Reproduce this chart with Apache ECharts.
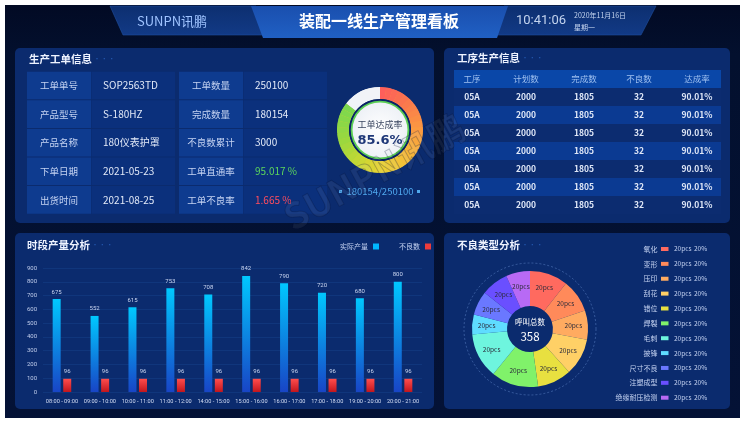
<!DOCTYPE html>
<html><head><meta charset="utf-8">
<script src="https://cdn.jsdelivr.net/npm/echarts@6/dist/echarts.min.js"></script>
<style>html,body{margin:0;padding:0;background:#fff}#c{width:750px;height:429px}</style>
</head><body><div id="c"></div><script>
const FONT = '"Noto Sans CJK SC","Noto Sans",sans-serif';
const NARROW = 'Roboto,"Noto Sans",sans-serif';

// ---- header texts ----
const headerTitle = '装配一线生产管理看板';
const brandText = 'SUNPN讯鹏';
const clockText = '10:41:06';
const dateText = '2020年11月16日';
const weekText = '星期一';

// ---- work order info ----
const infoLabelsA = ['工单单号', '产品型号', '产品名称', '下单日期', '出货时间'];
const infoValuesA = ['SOP2563TD', 'S-180HZ', '180仪表护罩', '2021-05-23', '2021-08-25'];
const infoLabelsB = ['工单数量', '完成数量', '不良数累计', '工单直通率', '工单不良率'];
const infoValuesB = ['250100', '180154', '3000', '95.017 %', '1.665 %'];
const infoValueColorsB = ['#e3eaf8', '#e3eaf8', '#e3eaf8', '#5cd65c', '#ff4d5e'];
const orderDone = '180154';
const orderTotal = '250100';
const completionRate = [85.6];
const completionTitle = '工单达成率';

// ---- process table ----
const tableHeaders = ['工序', '计划数', '完成数', '不良数', '达成率'];
const procCodes = ['05A', '05A', '05A', '05A', '05A', '05A', '05A'];
const procPlan = ['2000', '2000', '2000', '2000', '2000', '2000', '2000'];
const procDone = ['1805', '1805', '1805', '1805', '1805', '1805', '1805'];
const procBad = ['32', '32', '32', '32', '32', '32', '32'];
const procRate = ['90.01%', '90.01%', '90.01%', '90.01%', '90.01%', '90.01%', '90.01%'];

// ---- hourly output ----
const hours = ['08:00 - 09:00', '09:00 - 10:00', '10:00 - 11:00', '11:00 - 12:00', '14:00 - 15:00',
  '15:00 - 16:00', '16:00 - 17:00', '17:00 - 18:00', '19:00 - 20:00', '20:00 - 21:00'];
const actualOutput = [675, 552, 615, 753, 708, 842, 790, 720, 680, 800];
const defectOutput = [96, 96, 96, 96, 96, 96, 96, 96, 96, 96];
const seriesNames = ['实际产量', '不良数'];

// ---- defect types ----
const defectTypes = ['氧化', '变形', '压印', '刮花', '错位', '焊裂', '毛刺', '披锋', '尺寸不良', '注塑成型', '绝缘耐压检测'];
const defectValues = [38, 33, 29, 37, 34, 47, 45, 20, 24, 27, 24];
const defectPcsLabels = ['20pcs', '20pcs', '20pcs', '20pcs', '20pcs', '20pcs', '20pcs', '20pcs', '20pcs', '20pcs', '20pcs'];
const defectPctLabels = ['20%', '20%', '20%', '20%', '20%', '20%', '20%', '20%', '20%', '20%', '20%'];
const defectColors = ['#ff6a5f', '#ff8a5a', '#ffab60', '#ffd066', '#e8e040', '#80f26a', '#6ef5de', '#5fdcff', '#6a78ff', '#6a4fff', '#b86af5'];
const defectCenterTitle = '呼叫总数';

// ---------------------------------------------------------------
const G = echarts.graphic;
const els = [];
function rect(x, y, w, h, fill, r, z) { els.push({ type: 'rect', shape: { x, y, width: w, height: h, r: r || 0 }, style: { fill }, z: z == null ? -10 : z, silent: true }); }
function text(t, x, y, font, fill, align, z) { els.push({ type: 'text', x, y, style: { text: t, font, fill, textAlign: align || 'left', textVerticalAlign: 'middle' }, z: z == null ? 5 : z, silent: true }); }

// background
rect(5, 5, 735, 413, new G.LinearGradient(0, 0, 0, 1, [{ offset: 0, color: '#020a24' }, { offset: 0.12, color: '#03102e' }, { offset: 1, color: '#041236' }]), 0, -30);

// header shapes
const sideFill = () => new G.LinearGradient(0, 0, 0, 1, [{ offset: 0, color: '#0d2f70' }, { offset: 1, color: '#123a86' }]);
els.push({ type: 'polygon', shape: { points: [[110, 6], [256, 6], [266, 35], [123, 35]] }, style: { fill: sideFill(), stroke: '#1f4fa0', lineWidth: 0.6 }, z: -20, silent: true });
els.push({ type: 'polygon', shape: { points: [[504, 6], [656, 6], [641, 35], [494, 35]] }, style: { fill: sideFill(), stroke: '#1f4fa0', lineWidth: 0.6 }, z: -20, silent: true });
els.push({ type: 'polygon', shape: { points: [[251, 6], [508, 6], [497, 38], [263, 38]] }, style: { fill: new G.LinearGradient(0, 0, 0, 1, [{ offset: 0, color: '#1a4fae' }, { offset: 1, color: '#2060c4' }]) }, z: -19, silent: true });
text(brandText, 172, 21, '13px ' + FONT, '#9fc3ff', 'center');
text(headerTitle, 379, 21, 'bold 16px ' + FONT, '#ffffff', 'center');
text(clockText, 541, 21, '13px Roboto, ' + FONT, '#c3d3ee', 'center');
text(dateText, 574, 15, '7px ' + FONT, '#c3d3ee', 'left');
text(weekText, 574, 27, '7px ' + FONT, '#c3d3ee', 'left');

// panels
const PANEL = '#0b2b6e';
rect(15, 48, 419, 175, PANEL, 5);
rect(444, 48, 286, 175, PANEL, 5);
rect(15, 233, 419, 176, PANEL, 5);
rect(444, 233, 286, 176, PANEL, 5);
function title(t, x, y) {
  text(t, x, y, 'bold 10.5px ' + FONT, '#eef3ff', 'left');
  text('• • •', x + 65, y, '6px ' + FONT, '#2a62bf', 'left');
}
title('生产工单信息', 29, 59);
title('工序生产信息', 457, 58);
title('时段产量分析', 27, 245);
title('不良类型分析', 457, 245);

// work order info cells
for (let i = 0; i < 5; i++) {
  const y = 71.7 + i * 28.6, h = 27.6;
  rect(27, y, 64, h, '#0e3b8f', 0, -9);
  rect(91.5, y, 83.5, h, '#0b307c', 0, -9);
  rect(179, y, 64, h, '#0e3b8f', 0, -9);
  rect(243.5, y, 83.5, h, '#0b307c', 0, -9);
  text(infoLabelsA[i], 59, y + h / 2, '9.5px ' + FONT, '#c5d3f2', 'center');
  text(infoValuesA[i], 103, y + h / 2, '10px ' + FONT, '#e3eaf8', 'left');
  text(infoLabelsB[i], 211, y + h / 2, '9.5px ' + FONT, '#c5d3f2', 'center');
  text(infoValuesB[i], 255, y + h / 2, '10px ' + FONT, infoValueColorsB[i], 'left');
}

// donut inner decoration
const DC = [380, 130];
els.push({ type: 'circle', shape: { cx: DC[0], cy: DC[1], r: 31 }, style: { fill: '#0b2366' }, z: 50, silent: true });
els.push({ type: 'circle', shape: { cx: DC[0], cy: DC[1], r: 29.3 }, style: { fill: '#5ccf55' }, z: 51, silent: true });
els.push({ type: 'circle', shape: { cx: DC[0], cy: DC[1], r: 27.5 }, style: { fill: new G.RadialGradient(0.5, 0.5, 0.5, [{ offset: 0, color: '#ffffff' }, { offset: 1, color: '#eef1f6' }]) }, z: 52, silent: true });
text(completionTitle, DC[0], 125, '9px ' + FONT, '#3a4660', 'center', 60);
text(completionRate[0] + '%', DC[0], 140.5, 'bold 13px "DejaVu Sans", ' + FONT, '#1f3878', 'center', 60);
text(orderDone + '/' + orderTotal, DC[0], 191.5, '9.5px ' + FONT, '#4fa8ee', 'center');
rect(339, 190, 3, 3, '#4fa8ee', 0, 5);
rect(417, 190, 3, 3, '#4fa8ee', 0, 5);

// process table
const colX = [472, 526, 584, 639, 697];
rect(454, 70, 267, 18, '#0a47a8', 0, -9);
tableHeaders.forEach((h, j) => text(h, colX[j], 79, '8.5px ' + FONT, '#9fc0f0', 'center'));
const cols = [procCodes, procPlan, procDone, procBad, procRate];
for (let i = 0; i < procCodes.length; i++) {
  const y = 88 + i * 18;
  rect(454, y, 267, 18, i % 2 === 0 ? '#0c2c70' : '#0b3a92', 0, -9);
  cols.forEach((c, j) => text(c[i], colX[j], y + 9, 'bold 8.5px ' + FONT, '#dfe7f7', 'center'));
}

// defect legend (right side)
for (let i = 0; i < defectTypes.length; i++) {
  const y = 249 + i * 14.87;
  text(defectTypes[i], 657.5, y, '7px ' + FONT, '#c5d3f2', 'right');
  els.push({ type: 'rect', shape: { x: 661, y: y - 2, width: 7.5, height: 4 }, style: { fill: defectColors[i] }, z: 5, silent: true });
  text(defectPcsLabels[i], 674, y, '6.5px ' + FONT, '#c5d3f2', 'left');
  text(defectPctLabels[i], 694, y, '6.5px ' + FONT, '#c5d3f2', 'left');
}
// pie decorations
const PC = [530, 329];
els.push({ type: 'circle', shape: { cx: PC[0], cy: PC[1], r: 66 }, style: { fill: 'none', stroke: 'rgba(110,150,215,0.55)', lineWidth: 0.8, lineDash: [2, 2] }, z: 1, silent: true });
const defectTotal = defectValues.reduce((a, b) => a + b, 0);
text(defectCenterTitle, PC[0], 321.7, '7.5px ' + FONT, '#ffffff', 'center', 60);
text(String(defectTotal), PC[0], 337, '11.5px ' + FONT, '#ffffff', 'center', 60);

// watermark
els.push({ type: 'text', x: 374, y: 172, rotation: 0.5, style: { text: brandText, font: 'bold 36px ' + FONT, fill: 'rgba(210,222,245,0.07)', stroke: 'rgba(5,15,55,0.28)', lineWidth: 1, textAlign: 'center', textVerticalAlign: 'middle' }, z: 300, silent: true });

// gauge ring colour stops
const ringStops = [[0, '#ff5c5c'], [0.1, '#fa7250'], [0.25, '#fb9a40'], [0.4, '#f4c038'], [0.5, '#e8d232'], [0.6, '#c4d834'], [0.7, '#9cd83e'], [0.86, '#78d850']];
function hex(c) { return [1, 3, 5].map(k => parseInt(c.substr(k, 2), 16)); }
function colorAt(p) {
  for (let k = 1; k < ringStops.length; k++) {
    if (p <= ringStops[k][0]) {
      const a = ringStops[k - 1], b = ringStops[k];
      const t = (p - a[0]) / (b[0] - a[0]);
      const ca = hex(a[1]), cb = hex(b[1]);
      return 'rgb(' + ca.map((v, i) => Math.round(v + (cb[i] - v) * t)).join(',') + ')';
    }
  }
  return ringStops[ringStops.length - 1][1];
}
const frac = completionRate[0] / 100;
const N = 36;
const axisColors = [];
for (let i = 1; i <= N; i++) axisColors.push([frac * i / N, colorAt(frac * (i - 0.5) / N)]);
axisColors.push([1, '#f1f3f7']);

const chart = echarts.init(document.getElementById('c'), null, { renderer: 'canvas' });
chart.setOption({
  backgroundColor: '#ffffff',
  animation: false,
  graphic: [{ elements: els }],
  legend: {
    left: 335, top: 238, itemWidth: 6, itemHeight: 6, itemGap: 20, align: 'right', icon: 'rect',
    textStyle: { color: '#c5d3f2', fontSize: 7, fontFamily: FONT },
    data: [{ name: seriesNames[0], itemStyle: { color: '#00b7ff' } }, { name: seriesNames[1], itemStyle: { color: '#ec3b3b' } }]
  },
  grid: { left: 43, right: 328, top: 268, bottom: 37 },
  xAxis: {
    type: 'category', data: hours,
    axisLine: { show: false }, axisTick: { show: false },
    axisLabel: { color: '#d3ddf4', fontSize: 5.6, fontFamily: NARROW, margin: 7, interval: 0 }
  },
  yAxis: {
    type: 'value', min: 0, max: 900, interval: 100,
    axisLine: { show: false }, axisTick: { show: false },
    axisLabel: { color: '#c0cdec', fontSize: 6, fontFamily: NARROW, margin: 6 },
    splitLine: { lineStyle: { color: 'rgba(40,95,180,0.35)', width: 0.6 } }
  },
  series: [
    {
      type: 'bar', name: seriesNames[0], data: actualOutput, barWidth: 8, barGap: '32%',
      itemStyle: { color: new G.LinearGradient(0, 0, 0, 1, [{ offset: 0, color: '#00c8ff' }, { offset: 1, color: '#1845c6' }]) },
      label: { show: true, position: 'top', distance: 4, color: '#c9d5f0', fontSize: 6, fontFamily: NARROW }
    },
    {
      type: 'bar', name: seriesNames[1], data: defectOutput, barWidth: 8,
      itemStyle: { color: new G.LinearGradient(0, 0, 0, 1, [{ offset: 0, color: '#ff4d4d' }, { offset: 1, color: '#c2161d' }]) },
      label: { show: true, position: 'top', distance: 4, color: '#c9d5f0', fontSize: 6, fontFamily: NARROW }
    },
    {
      // underlay to hide seams between gauge colour segments
      type: 'pie', center: DC, radius: [31.3, 42.7], silent: true, startAngle: 90,
      data: [{ value: completionRate[0], itemStyle: { color: new G.LinearGradient(1, 0, 0, 1, [{ offset: 0, color: '#ff6a50' }, { offset: 0.5, color: '#f0c838' }, { offset: 1, color: '#80d84a' }]) } },
             { value: 100 - completionRate[0], itemStyle: { color: '#f1f3f7' } }],
      label: { show: false }, labelLine: { show: false }, emphasis: { disabled: true }, z: 2
    },
    {
      type: 'gauge', center: DC, radius: 43, startAngle: 90, endAngle: -270, min: 0, max: 100,
      data: [{ value: completionRate[0] }],
      axisLine: { lineStyle: { width: 12, color: axisColors } },
      pointer: { show: false }, progress: { show: false }, axisTick: { show: false }, splitLine: { show: false },
      axisLabel: { show: false }, detail: { show: false }, title: { show: false }, z: 3
    },
    {
      type: 'pie', center: PC, radius: [23, 58], startAngle: 90, clockwise: true,
      data: defectTypes.map((n, i) => ({ name: n, value: defectValues[i], itemStyle: { color: defectColors[i] } })),
      label: { show: true, position: 'inside', formatter: p => defectPcsLabels[p.dataIndex], color: '#2b2b3a', fontSize: 6.5, fontFamily: FONT },
      labelLine: { show: false }, emphasis: { disabled: true }, z: 3
    }
  ]
});
</script></body></html>
